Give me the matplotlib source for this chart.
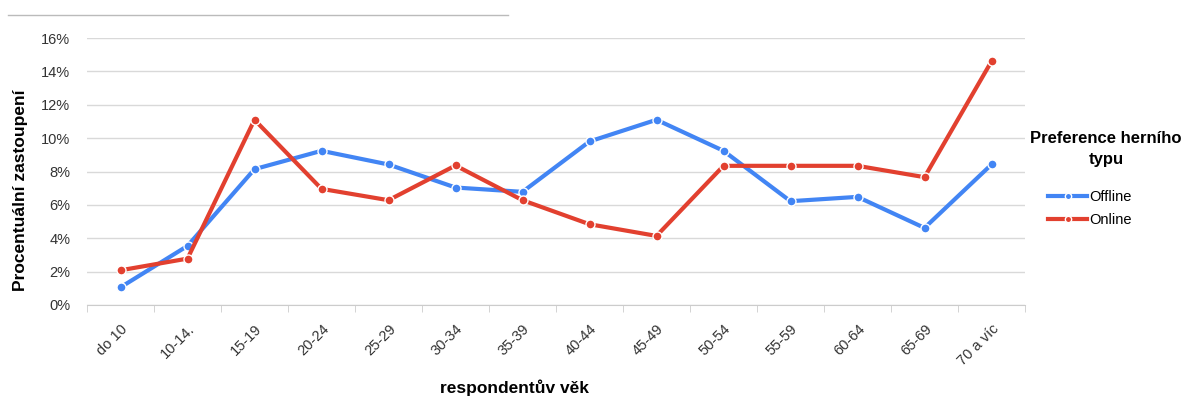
import matplotlib.pyplot as plt
from matplotlib.lines import Line2D

plt.rcParams['font.family'] = ['Liberation Sans', 'DejaVu Sans']

vek = ['do 10', '10-14.', '15-19', '20-24', '25-29', '30-34', '35-39',
       '40-44', '45-49', '50-54', '55-59', '60-64', '65-69', '70 a víc']
offline = [1.06, 3.54, 8.14, 9.24, 8.42, 7.04, 6.78, 9.8, 11.1, 9.24, 6.22, 6.48, 4.62, 8.42]
online = [2.08, 2.78, 11.1, 6.96, 6.28, 8.36, 6.28, 4.84, 4.14, 8.34, 8.34, 8.34, 7.66, 14.6]
yticks = [0, 2, 4, 6, 8, 10, 12, 14, 16]

modra = '#4285f4'
cervena = '#e2402f'

fig = plt.figure(figsize=(11.84, 3.96), dpi=100)
ax = fig.add_axes([87 / 1184, 1 - 305 / 396, (1025 - 87) / 1184, (305 - 38) / 396])

x = list(range(len(vek)))
ax.plot(x, offline, color=modra, lw=3, marker='o', ms=6.5, mec='white', mew=1,
        label='Offline', solid_joinstyle='round', zorder=3)
ax.plot(x, online, color=cervena, lw=3, marker='o', ms=6.5, mec='white', mew=1,
        label='Online', solid_joinstyle='round', zorder=3)

ax.set_xlim(-0.5, len(vek) - 0.5)
ax.set_ylim(0, 16)
ax.set_yticks(yticks)
ax.set_yticklabels([f'{v}%' for v in yticks])
ax.yaxis.grid(True, color='#d9d9d9', lw=1)
ax.set_axisbelow(True)

ax.set_xticks(x)
ax.set_xticklabels(vek, rotation=45, ha='right', va='top', rotation_mode='anchor')
ax.set_xticks([i - 0.5 for i in range(len(vek) + 1)], minor=True)
ax.tick_params(axis='x', which='major', length=0, pad=12, labelsize=10.5, labelcolor='#333333')
ax.tick_params(axis='x', which='minor', length=5, color='#cccccc')
ax.tick_params(axis='y', length=0, pad=12, labelsize=10.5, labelcolor='#333333')

for s in ['top', 'right', 'left']:
    ax.spines[s].set_visible(False)
ax.spines['bottom'].set_color('#cccccc')

ax.set_ylabel('Procentuální zastoupení', fontsize=12.5, fontweight='bold')
ax.yaxis.set_label_coords(-59 / 938, 0.43)
ax.set_xlabel('respondentův věk', fontsize=12.5, fontweight='bold', va='center')
ax.xaxis.set_label_coords((514 - 87) / 938, -83 / 267)

fig.text(1106 / 1184, 1 - 131 / 396, 'Preference herního\ntypu', ha='center', va='top',
         fontsize=12, fontweight='bold', linespacing=1.5)
fig.legend(loc='upper left', bbox_to_anchor=(1048 / 1184, 1 - 190 / 396), frameon=False,
           fontsize=10.5, handlelength=2.7, handletextpad=0.1, labelspacing=0.65,
           borderpad=0, borderaxespad=0, markerscale=0.7)

# sedá čára nahoře
fig.add_artist(Line2D([8 / 1184, 508 / 1184], [1 - 15 / 396, 1 - 15 / 396], color='#bbbbbb', lw=1))

fig.savefig('out.png', dpi=100)
